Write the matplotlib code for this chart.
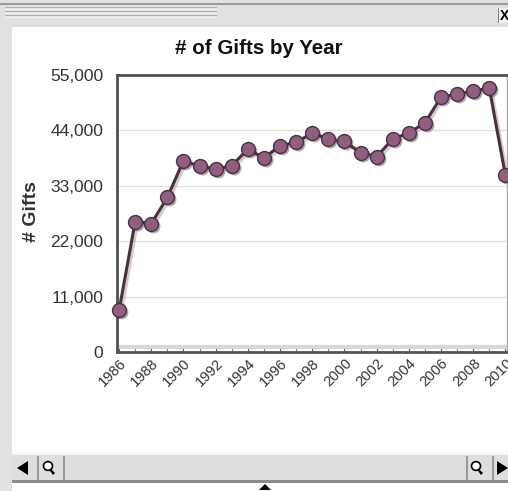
import matplotlib
matplotlib.use("Agg")
import matplotlib.pyplot as plt
from matplotlib.patches import Rectangle, Polygon, Circle
from matplotlib.ticker import FuncFormatter, MultipleLocator
from matplotlib.transforms import ScaledTranslation

# ==== data ====
years = list(range(1986, 2011))
gifts = [8300, 25900, 25500, 30700, 38000, 36900, 36300, 37000, 40300, 38500,
         41000, 41600, 43500, 42300, 41800, 39600, 38800, 42300, 43500, 45500,
         50600, 51200, 51800, 52400, 35100]
y_ticks = [0, 11000, 22000, 33000, 44000, 55000]
x_labels = list(range(1986, 2011, 2))

W, H = 508, 491
plt.rcParams["font.family"] = ["Liberation Sans", "DejaVu Sans"]

fig = plt.figure(figsize=(W / 100, H / 100), dpi=100)
fig.patch.set_facecolor("white")


def px(x, y, w, h):
    # pixel box (top-left origin) -> figure fraction
    return (x / W, 1 - (y + h) / H, w / W, h / H)


def rect(x, y, w, h, color, z=0):
    fig.patches.append(Rectangle(px(x, y, w, h)[:2], w / W, h / H,
                                 transform=fig.transFigure, facecolor=color,
                                 edgecolor="none", zorder=z))


def tri(pts):
    fig.patches.append(Polygon([(a / W, 1 - b / H) for a, b in pts],
                               closed=True, transform=fig.transFigure,
                               facecolor="black", edgecolor="none"))


# ---- window chrome ----
rect(0, 0, W, 27, "#e1e1e5")
rect(0, 0, 12, H, "#e1e1e5")
rect(0, 3, W, 1.5, "#9a9aa0")
for yy in (7, 11, 15):
    rect(5, yy, 212, 1.3, "#b0b0b0")
    rect(5, yy + 1.6, 212, 1.3, "#f4f4ea")
rect(498, 8, 12, 15, "#f4f4f4")
rect(498, 8, 1, 15, "#808080")
fig.text(505 / W, 1 - 16 / H, "X", fontsize=10, fontweight="bold",
         ha="center", va="center")

# scrollbar
rect(12, 455, W - 12, 26, "#dddde2")
rect(12, 453, W - 12, 2, "#f6f6ea")
rect(12, 480, W - 12, 2.5, "#8c8c8c")
for xx in (37, 63, 466, 492):
    rect(xx, 456, 1.5, 24, "#9a9aa0")
tri([(17, 468), (28, 461), (28, 475)])
tri([(497, 461), (508, 468), (497, 475)])
tri([(259, 490), (265, 484), (271, 490)])
for cx in (48, 476):
    fig.patches.append(Circle((cx / W, 1 - 466 / H), 4.5 / W,
                              transform=fig.transFigure, facecolor="white",
                              edgecolor="black", lw=1.2))
    tri([(cx + 3, 469), (cx + 7, 473), (cx + 5, 475), (cx + 2, 471)])

# ---- chart ----
ax = fig.add_axes(px(117, 75, 390, 277))
shadow = ax.transData + ScaledTranslation(2 / 100, -2 / 100, fig.dpi_scale_trans)
ax.plot(years, gifts, color="#b8a8b4", lw=2.5, marker="o", ms=10,
        markerfacecolor="#7a7078", markeredgecolor="none", alpha=0.6,
        zorder=2, transform=shadow, clip_on=False)
ax.plot(years, gifts, color="#4a3040", lw=2.2, marker="o", ms=10,
        markerfacecolor="#8e5f7e", markeredgecolor="#4a3040",
        markeredgewidth=1.0, zorder=3, clip_on=False)

ax.set_xlim(1985.87, 2010.1)
ax.set_ylim(0, 55000)
ax.set_yticks(y_ticks)
ax.yaxis.set_major_formatter(FuncFormatter(lambda v, p: f"{int(v):,}"))
ax.set_xticks(x_labels)
ax.set_xticklabels([str(x) for x in x_labels], rotation=45, ha="right",
                   rotation_mode="anchor", fontsize=10.5, color="#333333")
ax.xaxis.set_minor_locator(MultipleLocator(1))
ax.tick_params(axis="x", which="both", direction="in", length=5,
               color="#555555", pad=3)
ax.tick_params(axis="y", length=0, pad=10, labelsize=12.5,
               labelcolor="#333333")
ax.grid(axis="y", color="#e2e2e2", lw=1)
ax.set_axisbelow(True)

for side in ("left", "top"):
    ax.spines[side].set_color("#505050")
    ax.spines[side].set_linewidth(2)
ax.spines["bottom"].set_color("#555555")
ax.spines["bottom"].set_linewidth(2)
ax.spines["right"].set_color("#aaaaaa")
ax.spines["right"].set_linewidth(1)
ax.axhline(900, color="#d8d8d8", lw=3, zorder=1)

fig.text(259 / W, 1 - 48 / H, "# of Gifts by Year", fontsize=14.8,
         fontweight="bold", ha="center", va="center", color="#111111")
fig.text(31 / W, 1 - 212 / H, "# Gifts", fontsize=14, fontweight="bold",
         ha="center", va="center", rotation=90, color="#333333")

fig.savefig("out.png", dpi=100)
